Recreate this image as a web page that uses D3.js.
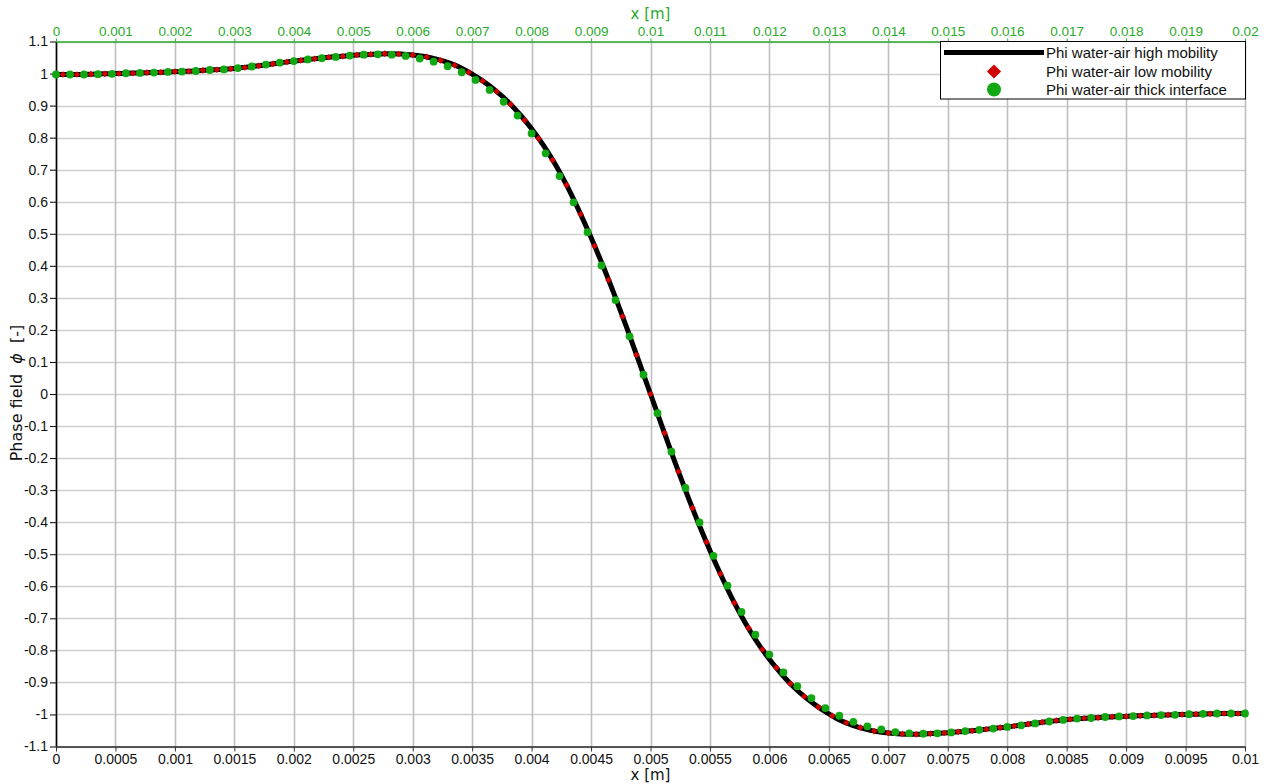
<!DOCTYPE html>
<html>
<head>
<meta charset="utf-8">
<script src="https://cdn.jsdelivr.net/npm/d3@7"></script>
<style>
  html, body { margin: 0; padding: 0; background: #ffffff; }
  svg { display: block; font-family: "Liberation Sans", Arial, Helvetica, sans-serif; }
</style>
</head>
<body>
<svg id="chart" width="1269" height="784"></svg>
<script>
// ---- Phi water-air high mobility (continuous profile) ----
const highX = [
  0.0000, 0.0001, 0.0002, 0.0003, 0.0004, 0.0005, 0.0006, 0.0007, 0.0008, 0.0009,
  0.0010, 0.0011, 0.0012, 0.0013, 0.0014, 0.0015, 0.0016, 0.0017, 0.0018, 0.0019,
  0.0020, 0.0021, 0.0022, 0.0023, 0.0024, 0.0025, 0.0026, 0.0027, 0.0028, 0.0029,
  0.0030, 0.0031, 0.0032, 0.0033, 0.0034, 0.0035, 0.0036, 0.0037, 0.0038, 0.0039,
  0.0040, 0.0041, 0.0042, 0.0043, 0.0044, 0.0045, 0.0046, 0.0047, 0.0048, 0.0049,
  0.0050, 0.0051, 0.0052, 0.0053, 0.0054, 0.0055, 0.0056, 0.0057, 0.0058, 0.0059,
  0.0060, 0.0061, 0.0062, 0.0063, 0.0064, 0.0065, 0.0066, 0.0067, 0.0068, 0.0069,
  0.0070, 0.0071, 0.0072, 0.0073, 0.0074, 0.0075, 0.0076, 0.0077, 0.0078, 0.0079,
  0.0080, 0.0081, 0.0082, 0.0083, 0.0084, 0.0085, 0.0086, 0.0087, 0.0088, 0.0089,
  0.0090, 0.0091, 0.0092, 0.0093, 0.0094, 0.0095, 0.0096, 0.0097, 0.0098, 0.0099,
  0.0100
];
const highPhi = [
  0.997, 0.997, 0.997, 0.998, 0.999, 1.000, 1.001, 1.002, 1.003, 1.004,
  1.006, 1.007, 1.009, 1.011, 1.013, 1.016, 1.020, 1.024, 1.029, 1.034,
  1.039, 1.043, 1.047, 1.051, 1.054, 1.057, 1.059, 1.061, 1.062, 1.061,
  1.058, 1.053, 1.045, 1.034, 1.019, 0.998, 0.974, 0.946, 0.913, 0.873,
  0.828, 0.776, 0.716, 0.648, 0.571, 0.488, 0.400, 0.306, 0.207, 0.104,
  0.000, -0.104, -0.207, -0.306, -0.400, -0.488, -0.571, -0.648, -0.716, -0.776,
  -0.828, -0.873, -0.913, -0.946, -0.974, -0.998, -1.019, -1.034, -1.045, -1.053,
  -1.058, -1.061, -1.062, -1.061, -1.059, -1.057, -1.054, -1.051, -1.047, -1.043,
  -1.039, -1.034, -1.029, -1.024, -1.020, -1.016, -1.013, -1.011, -1.009, -1.007,
  -1.006, -1.004, -1.003, -1.002, -1.001, -1.000, -0.999, -0.998, -0.997, -0.997,
  -0.997
];

// ---- Phi water-air low mobility (cell values) ----
const lowX = [
  0.000059, 0.000176, 0.000294, 0.000412, 0.000529, 0.000647, 0.000765, 0.000882, 0.001000, 0.001118,
  0.001235, 0.001353, 0.001471, 0.001588, 0.001706, 0.001824, 0.001941, 0.002059, 0.002176, 0.002294,
  0.002412, 0.002529, 0.002647, 0.002765, 0.002882, 0.003000, 0.003118, 0.003235, 0.003353, 0.003471,
  0.003588, 0.003706, 0.003824, 0.003941, 0.004059, 0.004176, 0.004294, 0.004412, 0.004529, 0.004647,
  0.004765, 0.004882, 0.005000, 0.005118, 0.005235, 0.005353, 0.005471, 0.005588, 0.005706, 0.005824,
  0.005941, 0.006059, 0.006176, 0.006294, 0.006412, 0.006529, 0.006647, 0.006765, 0.006882, 0.007000,
  0.007118, 0.007235, 0.007353, 0.007471, 0.007588, 0.007706, 0.007824, 0.007941, 0.008059, 0.008176,
  0.008294, 0.008412, 0.008529, 0.008647, 0.008765, 0.008882, 0.009000, 0.009118, 0.009235, 0.009353,
  0.009471, 0.009588, 0.009706, 0.009824, 0.009941
];
const lowPhi = [
  0.997, 0.997, 0.998, 0.999, 1.000, 1.001, 1.003, 1.004, 1.006, 1.007,
  1.010, 1.012, 1.015, 1.019, 1.024, 1.030, 1.036, 1.041, 1.046, 1.051,
  1.054, 1.058, 1.060, 1.062, 1.061, 1.058, 1.052, 1.041, 1.026, 1.004,
  0.977, 0.944, 0.904, 0.854, 0.797, 0.730, 0.652, 0.561, 0.462, 0.356,
  0.242, 0.122, 0.000, -0.122, -0.242, -0.356, -0.462, -0.561, -0.652, -0.730,
  -0.797, -0.854, -0.904, -0.944, -0.977, -1.004, -1.026, -1.041, -1.052, -1.058,
  -1.061, -1.062, -1.060, -1.058, -1.054, -1.051, -1.046, -1.041, -1.036, -1.030,
  -1.024, -1.019, -1.015, -1.012, -1.010, -1.007, -1.006, -1.004, -1.003, -1.001,
  -1.000, -0.999, -0.998, -0.997, -0.997
];

// ---- Phi water-air thick interface (node values) ----
const thickX = [
  0.000000, 0.000118, 0.000235, 0.000353, 0.000471, 0.000588, 0.000706, 0.000824, 0.000941, 0.001059,
  0.001176, 0.001294, 0.001412, 0.001529, 0.001647, 0.001765, 0.001882, 0.002000, 0.002118, 0.002235,
  0.002353, 0.002471, 0.002588, 0.002706, 0.002824, 0.002941, 0.003059, 0.003176, 0.003294, 0.003412,
  0.003529, 0.003647, 0.003765, 0.003882, 0.004000, 0.004118, 0.004235, 0.004353, 0.004471, 0.004588,
  0.004706, 0.004824, 0.004941, 0.005059, 0.005176, 0.005294, 0.005412, 0.005529, 0.005647, 0.005765,
  0.005882, 0.006000, 0.006118, 0.006235, 0.006353, 0.006471, 0.006588, 0.006706, 0.006824, 0.006941,
  0.007059, 0.007176, 0.007294, 0.007412, 0.007529, 0.007647, 0.007765, 0.007882, 0.008000, 0.008118,
  0.008235, 0.008353, 0.008471, 0.008588, 0.008706, 0.008824, 0.008941, 0.009059, 0.009176, 0.009294,
  0.009412, 0.009529, 0.009647, 0.009765, 0.009882, 0.010000
];
const thickPhi = [
  0.997, 0.997, 0.997, 0.998, 0.999, 1.001, 1.002, 1.003, 1.005, 1.006,
  1.008, 1.011, 1.013, 1.017, 1.022, 1.028, 1.034, 1.039, 1.044, 1.048,
  1.052, 1.056, 1.059, 1.060, 1.059, 1.055, 1.047, 1.037, 1.023, 1.004,
  0.980, 0.949, 0.912, 0.869, 0.813, 0.751, 0.680, 0.598, 0.505, 0.401,
  0.293, 0.180, 0.060, -0.060, -0.180, -0.293, -0.401, -0.505, -0.598, -0.680,
  -0.751, -0.813, -0.869, -0.912, -0.949, -0.980, -1.004, -1.023, -1.037, -1.047,
  -1.055, -1.059, -1.060, -1.059, -1.056, -1.052, -1.048, -1.044, -1.039, -1.034,
  -1.028, -1.022, -1.017, -1.013, -1.011, -1.008, -1.006, -1.005, -1.003, -1.002,
  -1.001, -0.999, -0.998, -0.997, -0.997, -0.997
];

// ---- Axis ticks ----
const bottomTicks = [0, 0.0005, 0.001, 0.0015, 0.002, 0.0025, 0.003, 0.0035, 0.004, 0.0045, 0.005,
                     0.0055, 0.006, 0.0065, 0.007, 0.0075, 0.008, 0.0085, 0.009, 0.0095, 0.01];
const bottomLabels = ["0", "0.0005", "0.001", "0.0015", "0.002", "0.0025", "0.003", "0.0035", "0.004", "0.0045", "0.005",
                      "0.0055", "0.006", "0.0065", "0.007", "0.0075", "0.008", "0.0085", "0.009", "0.0095", "0.01"];
const topTicks = [0, 0.001, 0.002, 0.003, 0.004, 0.005, 0.006, 0.007, 0.008, 0.009, 0.01,
                  0.011, 0.012, 0.013, 0.014, 0.015, 0.016, 0.017, 0.018, 0.019, 0.02];
const topLabels = ["0", "0.001", "0.002", "0.003", "0.004", "0.005", "0.006", "0.007", "0.008", "0.009", "0.01",
                   "0.011", "0.012", "0.013", "0.014", "0.015", "0.016", "0.017", "0.018", "0.019", "0.02"];
const yTicks = [1.1, 1, 0.9, 0.8, 0.7, 0.6, 0.5, 0.4, 0.3, 0.2, 0.1, 0,
                -0.1, -0.2, -0.3, -0.4, -0.5, -0.6, -0.7, -0.8, -0.9, -1, -1.1];
const yLabels = ["1.1", "1", "0.9", "0.8", "0.7", "0.6", "0.5", "0.4", "0.3", "0.2", "0.1", "0",
                 "-0.1", "-0.2", "-0.3", "-0.4", "-0.5", "-0.6", "-0.7", "-0.8", "-0.9", "-1", "-1.1"];

const seriesNames = ["Phi water-air high mobility", "Phi water-air low mobility", "Phi water-air thick interface"];

// ---- Layout ----
const svg = d3.select("#chart");
const plot = { left: 56, right: 1245, top: 41.5, bottom: 746.5 };
const GREEN = "#2aaa2a";
const MARK_GREEN = "#12a812";
const MARK_RED = "#d00000";
const TICK_FONT = '"Liberation Sans", Arial, sans-serif';

const x = d3.scaleLinear().domain([0, 0.01]).range([plot.left, plot.right]);
const xTop = d3.scaleLinear().domain([0, 0.02]).range([plot.left, plot.right]);
const y = d3.scaleLinear().domain([-1.1, 1.1]).range([plot.bottom, plot.top]);

// grid
const grid = svg.append("g").attr("class", "grid");
grid.selectAll("line.h").data(yTicks).join("line")
  .attr("class", "h")
  .attr("x1", plot.left).attr("x2", plot.right)
  .attr("y1", d => Math.round(y(d)) + 0.5).attr("y2", d => Math.round(y(d)) + 0.5)
  .attr("stroke", "#cfcfcf").attr("stroke-width", 1.6);
grid.selectAll("line.v").data(bottomTicks).join("line")
  .attr("class", "v")
  .attr("x1", d => Math.round(x(d)) + 0.5).attr("x2", d => Math.round(x(d)) + 0.5)
  .attr("y1", plot.top).attr("y2", plot.bottom)
  .attr("stroke", "#bfbfbf").attr("stroke-width", 1.6);

// axes
const yAxis = svg.append("g").attr("transform", `translate(${plot.left},0)`)
  .call(d3.axisLeft(y).tickValues(yTicks).tickFormat((d, i) => yLabels[i]).tickSize(6).tickSizeOuter(0).tickPadding(2));
yAxis.select(".domain").attr("stroke", "#000").attr("stroke-width", 1.6);
yAxis.selectAll(".tick line").attr("stroke", "#000");
yAxis.selectAll("text").attr("font-size", "14px").attr("fill", "#111").attr("font-family", TICK_FONT);

const xAxis = svg.append("g").attr("transform", `translate(0,${plot.bottom})`)
  .call(d3.axisBottom(x).tickValues(bottomTicks).tickFormat((d, i) => bottomLabels[i]).tickSize(5).tickSizeOuter(0).tickPadding(3));
xAxis.select(".domain").attr("stroke", "#555").attr("stroke-width", 2.2);
xAxis.selectAll(".tick line").attr("stroke", "#333");
xAxis.selectAll("text").attr("font-size", "14px").attr("fill", "#111").attr("font-family", TICK_FONT);

const xAxisTop = svg.append("g").attr("transform", `translate(0,${plot.top})`)
  .call(d3.axisTop(xTop).tickValues(topTicks).tickFormat((d, i) => topLabels[i]).tickSize(3).tickSizeOuter(0).tickPadding(3));
xAxisTop.select(".domain").attr("stroke", GREEN).attr("stroke-width", 1.4);
xAxisTop.selectAll(".tick line").attr("stroke", GREEN);
xAxisTop.selectAll("text").attr("font-size", "13.5px").attr("fill", GREEN).attr("font-family", TICK_FONT);

// axis titles
svg.append("text").attr("x", (plot.left + plot.right) / 2).attr("y", 19)
  .attr("text-anchor", "middle").attr("font-size", "15px").attr("fill", GREEN)
  .attr("font-family", '"DejaVu Sans", sans-serif').text("x [m]");
svg.append("text").attr("x", (plot.left + plot.right) / 2).attr("y", 780)
  .attr("text-anchor", "middle").attr("font-size", "15px").attr("fill", "#111")
  .attr("font-family", '"DejaVu Sans", sans-serif').text("x [m]");
const yTitle = svg.append("text")
  .attr("transform", `translate(22,${(plot.top + plot.bottom) / 2 - 1}) rotate(-90)`)
  .attr("text-anchor", "middle").attr("font-size", "16px").attr("fill", "#111")
  .attr("font-family", '"DejaVu Sans", sans-serif')
  .attr("xml:space", "preserve");
yTitle.append("tspan").text("Phase field  ");
yTitle.append("tspan").attr("font-style", "italic").text("ϕ");
yTitle.append("tspan").text("  [-]");

// series
const pairs = (xs, ys) => xs.map((v, i) => [v, ys[i]]);
const lineGen = d3.line().x(d => x(d[0])).y(d => y(d[1])).curve(d3.curveMonotoneX);
svg.append("path").datum(pairs(highX, highPhi))
  .attr("d", lineGen).attr("fill", "none").attr("stroke", "#000").attr("stroke-width", 5)
  .attr("stroke-linejoin", "round");

svg.append("g").selectAll("path").data(pairs(lowX, lowPhi)).join("path")
  .attr("d", d3.symbol().type(d3.symbolSquare).size(22)())
  .attr("transform", d => `translate(${x(d[0])},${y(d[1])}) rotate(45)`)
  .attr("fill", MARK_RED);

svg.append("g").selectAll("circle").data(pairs(thickX, thickPhi)).join("circle")
  .attr("cx", d => x(d[0])).attr("cy", d => y(d[1])).attr("r", 3.9)
  .attr("fill", MARK_GREEN);

// legend
const lg = svg.append("g");
lg.append("rect").attr("x", 940.5).attr("y", 41.5).attr("width", 305).attr("height", 57.5)
  .attr("fill", "#fff").attr("stroke", "#000").attr("stroke-width", 1);
const rowY = [52.5, 71.5, 89.5];
lg.append("line").attr("x1", 944).attr("x2", 1044).attr("y1", rowY[0]).attr("y2", rowY[0])
  .attr("stroke", "#000").attr("stroke-width", 5);
lg.append("path").attr("d", d3.symbol().type(d3.symbolSquare).size(100)())
  .attr("transform", `translate(994,${rowY[1]}) rotate(45)`).attr("fill", MARK_RED);
lg.append("circle").attr("cx", 994).attr("cy", rowY[2]).attr("r", 7).attr("fill", MARK_GREEN);
lg.selectAll("text.lbl").data(seriesNames).join("text")
  .attr("class", "lbl")
  .attr("x", 1046).attr("y", (d, i) => rowY[i] + 5)
  .attr("font-size", "15px").attr("fill", "#111").text(d => d);
</script>
</body>
</html>
